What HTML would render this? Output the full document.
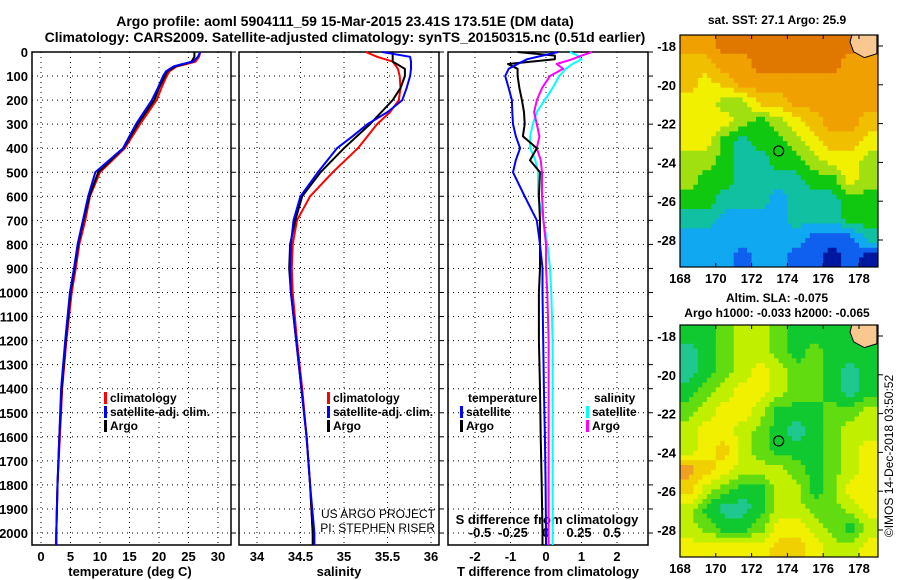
<!DOCTYPE html>
<html><head><meta charset="utf-8"><style>
body{margin:0;background:#fff;}
svg{display:block;font-family:"Liberation Sans",sans-serif;}
.b{font-weight:bold;}
</style></head><body>
<svg id="c" width="900" height="580" viewBox="0 0 900 580">
<text x="345" y="26" text-anchor="middle" class="b" font-size="14">Argo profile: aoml 5904111_59 15-Mar-2015 23.41S 173.51E (DM data)</text>
<text x="345" y="42" text-anchor="middle" class="b" font-size="14">Climatology: CARS2009. Satellite-adjusted climatology: synTS_20150315.nc (0.51d earlier)</text>
<text x="777" y="24" text-anchor="middle" class="b" font-size="12">sat. SST: 27.1 Argo: 25.9</text>
<text x="777" y="302" text-anchor="middle" class="b" font-size="12">Altim. SLA: -0.075</text>
<text x="777" y="317" text-anchor="middle" class="b" font-size="12">Argo h1000: -0.033 h2000: -0.065</text>
<text transform="translate(893,456) rotate(-90)" text-anchor="middle" font-size="12">©IMOS 14-Dec-2018 03:50:52</text>
<g id="g"></g>
</svg>
<script>
// ---- data ----
const depthTicks=[0,100,200,300,400,500,600,700,800,900,1000,1100,1200,1300,1400,1500,1600,1700,1800,1900,2000];
const tDepth=[0,20,40,50,60,80,100,150,200,300,400,500,600,700,800,900,1000,1200,1400,1600,1800,2000,2050];
const tClim=[27,26.8,26.2,24.7,23,21.8,21.3,20.4,19.6,16.8,14.2,10,8.3,7.5,6.5,5.9,5.2,4.3,3.6,3.2,2.8,2.6,2.5];
const tSat=[27,26.6,25.8,24,22.5,21.2,20.7,19.8,18.8,16.1,13.9,9.2,8,7.1,6.2,5.6,4.9,4.1,3.4,3.1,2.8,2.6,2.6];
const tArgo=[26,26,25.5,24.3,22.8,21.4,21,20,19.2,16.4,14,9.7,8.2,7.2,6.3,5.7,5,4.2,3.5,3.1,2.8,2.6,2.6];
const sDepth=[0,20,40,70,100,150,200,250,300,350,400,500,600,700,800,900,1000,1200,1400,1600,1800,2000,2050];
const sClim=[35.25,35.38,35.56,35.62,35.64,35.65,35.63,35.53,35.38,35.27,35.16,34.87,34.61,34.46,34.41,34.4,34.41,34.46,34.52,34.57,34.61,34.64,34.65];
const sSat=[35.44,35.76,35.77,35.77,35.76,35.72,35.67,35.5,35.27,35.1,34.92,34.7,34.5,34.42,34.39,34.38,34.39,34.45,34.51,34.57,34.61,34.66,34.66];
const sArgo=[35.56,35.56,35.56,35.7,35.7,35.65,35.56,35.43,35.3,35.15,35.0,34.73,34.52,34.44,34.38,34.37,34.39,34.45,34.51,34.57,34.61,34.64,34.64];
const dDepth=[0,15,30,50,70,100,150,200,250,300,350,400,450,500,600,700,800,900,1000,1200,1400,1600,1800,2000,2050];
const dTsat=[0.34,-0.1,-0.53,-0.8,-1.05,-1.15,-1.05,-0.96,-0.95,-0.93,-0.85,-0.73,-0.85,-0.93,-0.6,-0.26,-0.17,-0.1,-0.1,-0.08,-0.06,-0.03,-0.01,0,0];
const dTargo=[-0.8,0.25,0.25,-1.07,-0.8,-0.8,-0.75,-0.68,-0.62,-0.6,-0.65,-0.26,-0.45,-0.17,-0.2,-0.17,-0.17,-0.17,-0.2,-0.2,-0.17,-0.15,-0.12,-0.1,-0.1];
const dSsat=[0.18,0.24,0.27,0.2,0.15,0.1,0.05,-0.01,-0.07,-0.1,-0.12,-0.12,-0.08,-0.06,-0.06,-0.02,0.01,0.03,0.04,0.05,0.05,0.05,0.05,0.05,0.05];
const dSargo=[0.35,0.27,0.2,0.08,0.13,0.03,-0.03,-0.07,-0.09,-0.07,-0.05,-0.07,-0.04,-0.03,-0.03,-0.02,0.0,0.0,0.01,0.02,0.02,0.02,0.02,0.02,0.02];
const tTicks=[0,5,10,15,20,25,30];
const sTicks=[34,34.5,35,35.5,36];
const dtTicks=[-2,-1,0,1,2];
const dsTicks=[-0.5,-0.25,0,0.25,0.5];
const dsTickLabels=["-0.5","-0.25","0","0.25","0.5"];
const lonTicks=[168,170,172,174,176,178];
const latTicks=[-18,-20,-22,-24,-26,-28];
const sstGrid=[
[8,8,9,9,9,9,9,9,9,9,8],
[7,7,8,8,9,9,9,9,9,8,8],
[7,6,7,8,8,8,8,8,8,8,8],
[6,6,5,5,7,7,8,8,8,8,8],
[6,6,6,5,4,5,6,7,8,8,7],
[6,6,4,3,4,4,5,6,7,7,6],
[5,5,4,3,3,4,4,5,6,6,5],
[5,4,4,3,3,3,3,4,4,6,5],
[4,4,3,3,3,2,3,3,3,4,4],
[3,3,2,2,2,2,3,3,3,4,4],
[2,2,2,2,2,2,2,1,1,1,3],
[2,2,2,1,2,2,1,1,0,1,0]];
const slaGrid=[
[1,1,2,3,3,2,1,1,1,1,1],
[0,1,2,3,3,2,1,2,1,1,1],
[0,1,2,3,4,3,2,2,1,0,1],
[1,2,3,4,4,3,2,2,1,0,1],
[2,3,4,4,3,1,1,1,2,2,3],
[3,4,4,3,2,1,0,1,2,3,3],
[3,4,5,3,2,1,1,1,2,3,4],
[6,5,4,3,3,3,2,1,2,3,4],
[5,3,2,1,1,3,3,1,2,4,4],
[3,1,0,0,1,3,3,2,2,3,4],
[3,2,1,1,2,4,4,3,2,1,3],
[4,4,4,4,4,5,5,4,3,3,4]];
const sstPal=["#0018a0","#1060f0","#10a8f0","#10c0a0","#10c810","#a0e010","#f0f000","#f0c000","#f0a000","#e07800"];
const slaPal=["#20c890","#10c830","#60dc10","#c0f000","#f0f000","#f0d000","#f0a020"];

// ---- helpers ----
const NS="http://www.w3.org/2000/svg";
const G=document.getElementById('g');
function mk(tag,attrs,parent){const e=document.createElementNS(NS,tag);for(const k in attrs)e.setAttribute(k,attrs[k]);(parent||G).appendChild(e);return e;}
const TOP=52,BOT=545;
const yD=d=>TOP+d*0.2405;
const panels=[
 {x0:32,x1:231,f:v=>41+v*5.9,name:'temperature'},
 {x0:239,x1:439,f:v=>257+(v-34)*87,name:'salinity'},
 {x0:448,x1:648,f:v=>546+v*35.5,g:v=>546+v*132,name:'difference'}];

panels.forEach((p,pi)=>{
  const r=mk('rect',{x:p.x0,y:TOP,width:p.x1-p.x0,height:BOT-TOP,fill:'none',stroke:'#000','stroke-width':1.5});
  
  
  depthTicks.forEach(d=>{
    const l=mk('line',{x1:p.x0,x2:p.x1,y1:yD(d),y2:yD(d),stroke:'#000','stroke-dasharray':'1 4','stroke-width':1});
    
    
    const t=mk('line',{x1:p.x1,x2:p.x1+5,y1:yD(d),y2:yD(d),stroke:'#000'});
    
    
    if(pi===0){
      const tx=mk('text',{x:28,y:yD(d)+5,'text-anchor':'end','font-size':13,'font-weight':'bold'});
      tx.textContent=d;
      
      
    }
  });
});
function xgrid(p,ticks,fn,labels,ly){
  ticks.forEach((v,i)=>{
    const x=fn(v);
    const l=mk('line',{x1:x,x2:x,y1:TOP,y2:BOT,stroke:'#000','stroke-dasharray':'1 4'});
    
    
    const t=mk('text',{x:x,y:ly,'text-anchor':'middle','font-size':13,'font-weight':'bold'});
    t.textContent=labels[i];
    
    
  });
}
xgrid(panels[0],tTicks,panels[0].f,tTicks,561);
xgrid(panels[1],sTicks,panels[1].f,sTicks,561);
xgrid(panels[2],dtTicks,panels[2].f,dtTicks,561);
dsTicks.forEach((v,i)=>{
  const t=mk('text',{x:panels[2].g(v),y:537,'text-anchor':'middle','font-size':13,'font-weight':'bold'});
  t.textContent=dsTickLabels[i];
  
  
});
[[130,'temperature (deg C)'],[339,'salinity'],[548,'T difference from climatology']].forEach(a=>{
  const t=mk('text',{x:a[0],y:576,'text-anchor':'middle','font-size':13,'font-weight':'bold'});
  t.textContent=a[1];
  
  
});
{const t=mk('text',{x:547,y:524,'text-anchor':'middle','font-size':13,'font-weight':'bold'});t.textContent='S difference from climatology';

}
{const t=mk('text',{x:435,y:518,'text-anchor':'end','font-size':12});t.textContent='US ARGO PROJECT';


const t2=mk('text',{x:435,y:532,'text-anchor':'end','font-size':12});t2.textContent='PI: STEPHEN RISER';

}

function line(depths,vals,fx,color,name){
  const pts=depths.map((d,i)=>fx(vals[i]).toFixed(1)+','+yD(d).toFixed(1)).join(' ');
  const pl=mk('polyline',{points:pts,fill:'none',stroke:color,'stroke-width':2,'stroke-linejoin':'round'});
  
  
}
line(tDepth,tClim,panels[0].f,'#f00','temp-climatology-line');
line(tDepth,tArgo,panels[0].f,'#000','temp-argo-line');
line(tDepth,tSat,panels[0].f,'#00f','temp-satellite-line');
line(sDepth,sClim,panels[1].f,'#f00','sal-climatology-line');
line(sDepth,sArgo,panels[1].f,'#000','sal-argo-line');
line(sDepth,sSat,panels[1].f,'#00f','sal-satellite-line');
line(dDepth,dSsat,panels[2].g,'#0ff','s-diff-satellite-line');
line(dDepth,dSargo,panels[2].g,'#f0f','s-diff-argo-line');
line(dDepth,dTargo,panels[2].f,'#000','t-diff-argo-line');
line(dDepth,dTsat,panels[2].f,'#00f','t-diff-satellite-line');

function legend(x,y,color,label,name){
  const r=mk('rect',{x:x,y:y-10,width:3,height:12,fill:color});
  
  
  const t=mk('text',{x:x+6,y:y,'font-size':12,'font-weight':'bold'});t.textContent=label;
  
  
}
legend(104,402,'#f00','climatology','legend-climatology');
legend(104,416,'#00f','satellite-adj. clim.','legend-satellite');
legend(104,430,'#000','Argo','legend-argo');
legend(327,402,'#f00','climatology','legend-sal-climatology');
legend(327,416,'#00f','satellite-adj. clim.','legend-sal-satellite');
legend(327,430,'#000','Argo','legend-sal-argo');
{const t=mk('text',{x:468,y:402,'font-size':12,'font-weight':'bold'});t.textContent='temperature';


const t2=mk('text',{x:594,y:402,'font-size':12,'font-weight':'bold'});t2.textContent='salinity';

}
legend(460,416,'#00f','satellite','legend-tdiff-satellite');
legend(460,430,'#000','Argo','legend-tdiff-argo');
legend(586,416,'#0ff','satellite','legend-sdiff-satellite');
legend(586,430,'#f0f','Argo','legend-sdiff-argo');

// ---- maps ----
function sample(grid,r,c){
  const R=grid.length,C=grid[0].length;
  r=Math.max(0,Math.min(R-1,r));c=Math.max(0,Math.min(C-1,c));
  const r0=Math.floor(r),c0=Math.floor(c),r1=Math.min(R-1,r0+1),c1=Math.min(C-1,c0+1);
  const fr=r-r0,fc=c-c0;
  return grid[r0][c0]*(1-fr)*(1-fc)+grid[r0][c1]*(1-fr)*fc+grid[r1][c0]*fr*(1-fc)+grid[r1][c1]*fr*fc;
}
function map(top,grid,pal,name){
  const X0=680,X1=878,Y1=top+232;
  const fx=lon=>X0+(lon-168)*17.9;
  const fy=lat=>top+11+(-18-lat)*19.4;
  const g=mk('g',{});
  
  
  const step=0.25;
  for(let lat=-17.4;lat>-29.5;lat-=step){
    for(let lon=168;lon<179.1;lon+=step){
      const v=Math.round(sample(grid,(-17.4-lat)-0.5+step/2,(lon-168)-0.5+step/2));
      const x=fx(lon), y=fy(lat);
      const h=Math.min(Y1,y+step*19.4+0.6)-Math.max(top,y);
      const w=Math.min(X1,x+step*17.9+0.6)-x;
      if(h<=0||w<=0) continue;
      const r=mk('rect',{x:x.toFixed(1),y:Math.max(top,y).toFixed(1),width:w.toFixed(1),height:h.toFixed(1),fill:pal[Math.max(0,Math.min(pal.length-1,v))]},g);
      
      
    }
  }
  const isl=mk('path',{d:`M${fx(177.6)},${top} L${fx(179)},${top} L${fx(179)},${fy(-18.4)} L${fx(178.3)},${fy(-18.6)} L${fx(177.7)},${fy(-18.3)} L${fx(177.5)},${fy(-17.8)} Z`,fill:'#f8c890',stroke:'#000'},g);
  
  
  const c=mk('circle',{cx:fx(173.51),cy:fy(-23.41),r:5,fill:'none',stroke:'#000','stroke-width':1.2},g);
  
  
  const fr=mk('rect',{x:X0,y:top,width:X1-X0,height:Y1-top,fill:'none',stroke:'#000','stroke-width':1.2},g);
  
  
  lonTicks.forEach(l=>{
    const t=mk('text',{x:fx(l),y:Y1+16,'text-anchor':'middle','font-size':13,'font-weight':'bold'},g);t.textContent=l;
    
    
    mk('line',{x1:fx(l),x2:fx(l),y1:top,y2:top+4,stroke:'#000'},g);
    mk('line',{x1:fx(l),x2:fx(l),y1:Y1,y2:Y1-4,stroke:'#000'},g);
  });
  latTicks.forEach(l=>{
    const t=mk('text',{x:676,y:fy(l)+5,'text-anchor':'end','font-size':13,'font-weight':'bold'},g);t.textContent=l;
    
    
    mk('line',{x1:X1,x2:X1+5,y1:fy(l),y2:fy(l),stroke:'#000'},g);
  });
}
map(35,sstGrid,sstPal,'sst-map');
map(325,slaGrid,slaPal,'sla-map');
</script>
</body></html>
